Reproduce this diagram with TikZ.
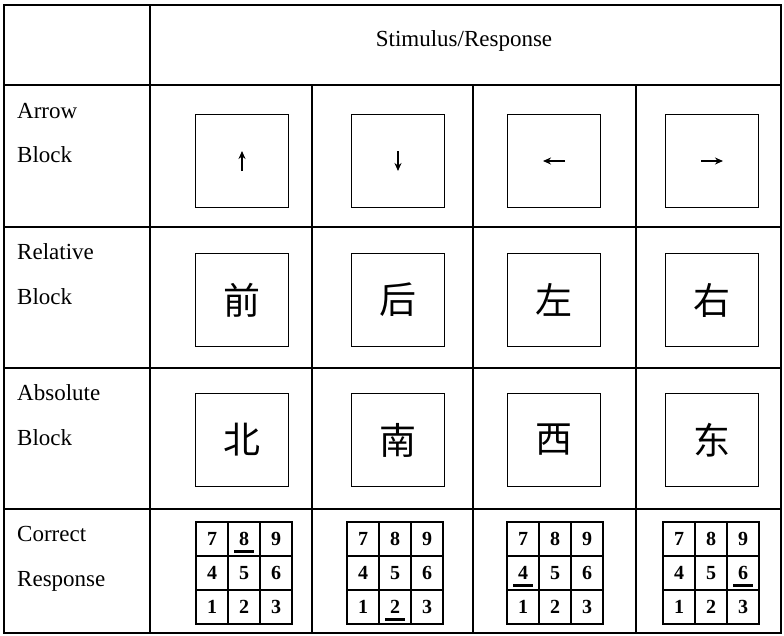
\documentclass[tikz,border=0pt]{standalone}
\usepackage{fontspec}
\setmainfont{Liberation Serif}
\newfontfamily\cjk{Noto Sans CJK SC}
\usetikzlibrary{arrows.meta}

\tikzset{
  stimbox/.style={draw, line width=1.1pt, minimum size=93pt, inner sep=0pt, font=\cjk\fontsize{37}{37}\selectfont},
  rowlabel/.style={anchor=base west, inner sep=0pt, font=\fontsize{23}{23}\selectfont},
  keycell/.style={draw, line width=1.1pt, minimum width=32pt, minimum height=34pt, inner sep=0pt, font=\bfseries\fontsize{20}{20}\selectfont},
  keyarrow/.style={line width=1.6pt, -{Stealth[length=8pt,width=7pt]}},
}

\begin{document}
\begin{tikzpicture}[x=1pt,y=-1pt]
    \useasboundingbox (0,0) rectangle (784,635);

    \draw[line width=1.8pt] (4,5) rectangle (781,633); %outer frame
    \foreach \y in {85,227,368,509} \draw[line width=1.3pt] (4,\y) -- (781,\y);
    \draw[line width=1.3pt] (150,5) -- (150,633);
    \foreach \x in {312,473,636} \draw[line width=1.3pt] (\x,85) -- (\x,633);

    \node[anchor=base, inner sep=0pt, font=\fontsize{23}{23}\selectfont] (head) at (464,46) {Stimulus/Response};

    \node[rowlabel] (arrowA) at (17,118) {Arrow};
    \node[rowlabel] (arrowB) at (17,162) {Block};
    \node[rowlabel] (relA) at (17,259) {Relative};
    \node[rowlabel] (relB) at (17,304) {Block};
    \node[rowlabel] (absA) at (17,400) {Absolute};
    \node[rowlabel] (absB) at (17,445) {Block};
    \node[rowlabel] (corA) at (17,541) {Correct};
    \node[rowlabel] (corB) at (17,586) {Response};

    % arrow block
    \node[stimbox] (up) at (242,161) {};
    \node[stimbox] (down) at (398,161) {};
    \node[stimbox] (left) at (554,161) {};
    \node[stimbox] (right) at (712,161) {};
    \draw[keyarrow] ([yshift=-10pt]up.center) -- ([yshift=10pt]up.center);
    \draw[keyarrow] ([yshift=10pt]down.center) -- ([yshift=-10pt]down.center);
    \draw[keyarrow] ([xshift=11pt]left.center) -- ([xshift=-11pt]left.center);
    \draw[keyarrow] ([xshift=-11pt]right.center) -- ([xshift=11pt]right.center);

    % relative block
    \node[stimbox] (qian) at (242,300) {前};
    \node[stimbox] (hou) at (398,300) {后};
    \node[stimbox] (zuo) at (554,300) {左};
    \node[stimbox] (you) at (712,300) {右};

    % absolute block
    \node[stimbox] (bei) at (242,440) {北};
    \node[stimbox] (nan) at (398,440) {南};
    \node[stimbox] (xi) at (554,440) {西};
    \node[stimbox] (dong) at (712,440) {东};

    % correct response keypads
    \foreach \g/\cx/\hit in {1/244/8, 2/395/2, 3/555/4, 4/711/6} {
        \foreach \d in {1,...,9} {
            \pgfmathtruncatemacro\col{mod(\d-1,3)}
            \pgfmathtruncatemacro\row{div(\d-1,3)}
            \node[keycell] (g\g-\d) at (\cx+32*\col-32, 607-34*\row) {\d};
        }
        \draw[line width=3pt] ([xshift=-10pt,yshift=-12.5pt]g\g-\hit.center) -- ([xshift=10pt,yshift=-12.5pt]g\g-\hit.center); %underline of the right key
    }
\end{tikzpicture}
\end{document}
